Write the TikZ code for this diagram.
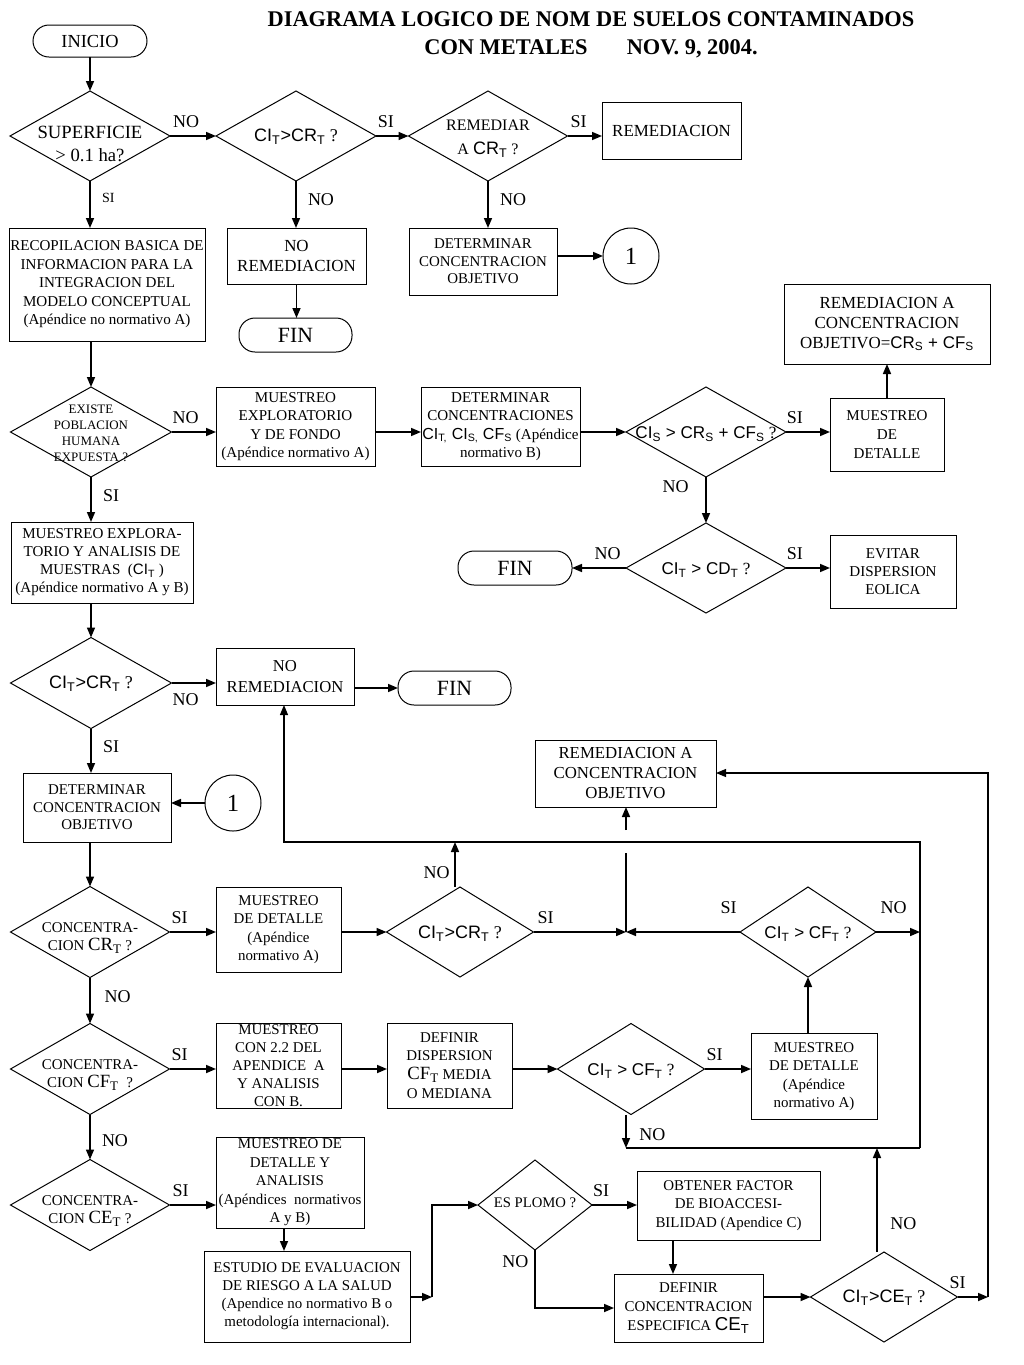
\documentclass[tikz,border=0pt]{standalone}
\usepackage{fontspec}
\setmainfont{Liberation Serif}
\newfontfamily\arialf{Liberation Sans}
\usetikzlibrary{arrows.meta,shapes.geometric,calc}

% formula parts are set in sans
\newcommand{\fsans}[1]{{\arialf #1}}
\newcommand{\sbs}[1]{\textsubscript{#1}}
\newcommand{\fbig}{\fontsize{13.5}{15}\selectfont}
\newcommand{\ftxt}{\fontsize{11.2}{13.7}\selectfont}
\newcommand{\fsub}{\fontsize{14}{15}\selectfont}

\begin{document}
\begin{tikzpicture}[x=0.75pt,y=-0.75pt,
  every node/.style={inner sep=0pt,outer sep=0pt},
  blk/.style 2 args={draw,line width=0.75pt,minimum width=#1*0.75pt,minimum height=#2*0.75pt,align=center,font=\ftxt},
  dec/.style 2 args={diamond,draw,line width=0.75pt,minimum width=#1*0.75pt,minimum height=#2*0.75pt},
  term/.style={draw,line width=0.75pt,rounded corners=12pt,minimum width=113*0.75pt,minimum height=34*0.75pt,font=\fontsize{16.3}{18}\selectfont},
  conn/.style={draw,circle,line width=0.75pt,minimum size=56*0.75pt,font=\fontsize{18.5}{20}\selectfont},
  dtext/.style={align=center,font=\fbig},
  lbl/.style={font=\fbig},
  arr/.style={line width=1.2pt,-{Triangle[length=7.5pt,width=6pt]}},
  arrt/.style={line width=0.8pt,-{Triangle[length=7.5pt,width=6pt]}},
  thin/.style={line width=0.8pt},
]
\fill[white] (0,0) rectangle (1024,1365);
\useasboundingbox (0,0) rectangle (1024,1365);

\node[align=center,font=\bfseries\fontsize{16.8}{21}\selectfont] (title) at (591,35)
  {DIAGRAMA LOGICO DE NOM DE SUELOS CONTAMINADOS\\CON METALES\hspace{1.5em} NOV. 9, 2004.};

% first row
\node[term,minimum width=114*0.75pt,minimum height=32*0.75pt,font=\fontsize{13.8}{15}\selectfont] (inicio) at (90,41) {INICIO};
\node[dec={160}{90}] (d1) at (90,136) {};
\node[dtext,font=\fontsize{14}{17}\selectfont] (t1) at (90,144) {SUPERFICIE\\> 0.1 ha?};
\node[dec={160}{90}] (d2) at (296,136) {};
\node[dtext] (t2) at (296,137) {\fsans{CI\sbs{T}>CR\sbs{T}} ?};
\node[dec={159}{90}] (d3) at (488,136) {};
\node[dtext,font=\fontsize{12}{18}\selectfont] (t3) at (488,139) {REMEDIAR\\A \fsans{\fbig CR\sbs{T}} ?};
\node[blk={139}{57},font=\fontsize{12.7}{15}\selectfont] (remed) at (671.5,130.5) {REMEDIACION};
\node[blk={139}{56},font=\fontsize{12.7}{15.5}\selectfont] (noremA) at (296.5,256) {NO\\REMEDIACION};
\node[term] (finA) at (295.5,335) {FIN};
\node[blk={148}{67},font=\fontsize{11.2}{13}\selectfont] (detobjA) at (483,261.5) {DETERMINAR\\CONCENTRACION\\OBJETIVO};
\node[conn] (oneA) at (631,256) {1};
\node[blk={196}{113},font=\fontsize{11.3}{13.9}\selectfont] (recop) at (107,284.5)
  {RECOPILACION BASICA DE\\INFORMACION PARA LA\\INTEGRACION DEL\\MODELO CONCEPTUAL\\(Apéndice no normativo A)};

% second row
\node[dec={161}{90}] (d4) at (91,432) {};
\node[dtext,font=\fontsize{9.7}{12}\selectfont] (t4) at (91,433) {EXISTE\\POBLACION\\HUMANA\\EXPUESTA ?};
\node[blk={159}{79},font=\fontsize{11.3}{13.75}\selectfont] (muexp) at (295.5,426.5)
  {MUESTREO\\EXPLORATORIO\\Y DE FONDO\\(Apéndice normativo A)};
\node[blk={159}{79},font=\fontsize{11.3}{13.75}\selectfont] (detcon) at (500.5,426.5)
  {DETERMINAR\\CONCENTRACIONES\\\fsans{\fontsize{12}{13.75}\selectfont CI\sbs{T,} CI\sbs{S,} CF\sbs{S}} (Apéndice\\normativo B)};
\node[dec={160}{90}] (d5) at (706,432) {};
\node[dtext,font=\fontsize{12.8}{15}\selectfont] (t5) at (706,434) {\fsans{CI\sbs{S} > CR\sbs{S} + CF\sbs{S}} ?};
\node[blk={114}{73},font=\fontsize{11.3}{13.9}\selectfont] (muedetA) at (887,434.5) {MUESTREO\\DE\\DETALLE};
\node[blk={206}{80},font=\fontsize{12.7}{15}\selectfont] (remedS) at (887,324)
  {REMEDIACION A\\CONCENTRACION\\OBJETIVO=\fsans{CR\sbs{S} + CF\sbs{S}}};
\node[dec={160}{90}] (d6) at (706,568) {};
\node[dtext,font=\fontsize{12.8}{15}\selectfont] (t6) at (706,570) {\fsans{CI\sbs{T} > CD\sbs{T}} ?};
\node[term,minimum width=114*0.75pt] (finB) at (515,568) {FIN};
\node[blk={126}{73},font=\fontsize{11.3}{13.5}\selectfont] (evitar) at (893,571.5) {EVITAR\\DISPERSION\\EOLICA};
\node[blk={182}{81},font=\fontsize{11.3}{13.5}\selectfont] (muexp2) at (102,562.5)
  {MUESTREO EXPLORA-\\TORIO Y ANALISIS DE\\MUESTRAS~ (\fsans{CI\sbs{T}} )\\(Apéndice normativo A y B)};

% third row
\node[dec={161}{91}] (d7) at (91,683) {};
\node[dtext] (t7) at (91,684) {\fsans{CI\sbs{T}>CR\sbs{T}} ?};
\node[blk={138}{57},font=\fontsize{12.5}{15.5}\selectfont] (noremB) at (285,676.5) {NO\\REMEDIACION};
\node[term] (finC) at (454.5,688) {FIN};
\node[blk={148}{69},font=\fontsize{11.2}{13}\selectfont] (detobjB) at (97,807.5) {DETERMINAR\\CONCENTRACION\\OBJETIVO};
\node[conn] (oneB) at (233,803) {1};
\node[blk={181}{67},font=\fontsize{12.6}{15}\selectfont] (remobj) at (625.5,773.5) {REMEDIACION A\\CONCENTRACION\\OBJETIVO};

% fourth row
\node[dec={159}{91}] (d8) at (90,932) {};
\node[dtext,font=\ftxt] (t8) at (90,938) {CONCENTRA-\\CION {\fsub CR\sbs{T}} ?};
\node[blk={125}{85},font=\fontsize{11.2}{13.9}\selectfont] (muedetB) at (278.5,929.5) {MUESTREO\\DE DETALLE\\(Apéndice\\normativo A)};
\node[dec={147}{90}] (d9) at (460,932) {};
\node[dtext] (t9) at (460,934) {\fsans{CI\sbs{T}>CR\sbs{T}} ?};
\node[dec={136}{90}] (d10) at (808,932) {};
\node[dtext,font=\fontsize{12.8}{15}\selectfont] (t10) at (808,934) {\fsans{CI\sbs{T} > CF\sbs{T}} ?};

% fifth row
\node[dec={159}{91}] (d11) at (90,1069) {};
\node[dtext,font=\ftxt] (t11) at (90,1075) {CONCENTRA-\\CION {\fsub CF\sbs{T}}~ ?};
\node[blk={125}{85},font=\fontsize{11.2}{13.5}\selectfont] (muecon) at (278.5,1065.5) {MUESTREO\\CON 2.2 DEL\\APENDICE~ A\\Y ANALISIS\\CON B.};
\node[blk={125}{85},font=\fontsize{11.2}{14}\selectfont] (defdis) at (449.5,1065.5) {DEFINIR\\DISPERSION\\{\fsub CF\sbs{T}} MEDIA\\O MEDIANA};
\node[dec={147}{91}] (d12) at (631,1069) {};
\node[dtext,font=\fontsize{12.8}{15}\selectfont] (t12) at (631,1071) {\fsans{CI\sbs{T} > CF\sbs{T}} ?};
\node[blk={126}{86},font=\fontsize{11.2}{13.9}\selectfont] (muedetC) at (814,1076.5) {MUESTREO\\DE DETALLE\\(Apéndice\\normativo A)};

% sixth row
\node[dec={159}{91}] (d13) at (90,1205) {};
\node[dtext,font=\ftxt] (t13) at (90,1211) {CONCENTRA-\\CION {\fsub CE\sbs{T}} ?};
\node[blk={148}{91},font=\fontsize{11.2}{13.9}\selectfont] (muedetY) at (290,1182.5) {MUESTREO DE\\DETALLE Y\\ANALISIS\\(Apéndices~ normativos\\A y B)};
\node[blk={206}{91},font=\fontsize{11.2}{13.5}\selectfont] (estudio) at (307,1296.5)
  {ESTUDIO DE EVALUACION\\DE RIESGO A LA SALUD\\(Apendice no normativo B o\\metodología internacional).};
\node[dec={114}{90}] (d14) at (535,1205) {};
\node[dtext,font=\fontsize{11}{13}\selectfont] (t14) at (535,1203) {ES PLOMO ?};
\node[blk={183}{69},font=\fontsize{11.2}{14}\selectfont] (obtener) at (728.5,1205.5) {OBTENER FACTOR\\DE BIOACCESI-\\BILIDAD (Apendice C)};
\node[blk={149}{68},font=\fontsize{11.2}{14}\selectfont] (defesp) at (688.5,1308) {DEFINIR\\CONCENTRACION\\ESPECIFICA \fsans{\fsub CE\sbs{T}}};
\node[dec={147}{90}] (d15) at (884,1297) {};
\node[dtext] (t15) at (884,1298) {\fsans{CI\sbs{T}>CE\sbs{T}} ?};

% free ends of the loops
\coordinate (jn) at (626,932);
\coordinate (jtop) at (626,853);
\coordinate (jarr) at (626,830);
\coordinate (up1) at (455,842);
\coordinate (lp1) at (284,842);
\coordinate (lp2) at (920,842);
\coordinate (lp3) at (920,1148);
\coordinate (lp4) at (626,1148);
\coordinate (lp5) at (877,1148);
\coordinate (rr1) at (988,1297);
\coordinate (rr2) at (988,773);
\coordinate (es1) at (432,1297);
\coordinate (es2) at (432,1205);
\coordinate (obx) at (673,1240);

% connectors
\draw[arr] (inicio.south) -- (d1.north);
\draw[arr] (d1.east) -- node[lbl,pos=.35,above=6.5pt] (n1) {NO} (d2.west);
\draw[arr] (d2.east) -- node[lbl,pos=.3,above=6.5pt] (n2) {SI} (d3.west);
\draw[arr] (d3.east) -- node[lbl,pos=.32,above=6.5pt] (n3) {SI} (d3.east -| remed.west);
\draw[arr] (d2.south) -- node[lbl,pos=.4,right=9pt] (n4) {NO} (d2.south |- noremA.north);
\draw[arr] (d3.south) -- node[lbl,pos=.4,right=9pt] (n5) {NO} (d3.south |- detobjA.north);
\draw[arr] (noremA.south) -- (noremA.south |- finA.north);
\draw[arr] (detobjA.east |- oneA.west) -- (oneA.west);
\draw[arr] (d1.south) -- node[font=\fontsize{10.5}{12}\selectfont,pos=.35,right=9pt] (n6) {SI} (d1.south |- recop.north);
\draw[arr] (recop.south -| d4.north) -- (d4.north);
\draw[arr] (d4.east) -- node[lbl,pos=.32,above=6.5pt] (n7) {NO} (d4.east -| muexp.west);
\draw[arr] (d4.east -| muexp.east) -- (d4.east -| detcon.west);
\draw[arr] (detcon.east |- d5.west) -- (d5.west);
\draw[arr] (d5.east) -- node[lbl,pos=.2,above=6.5pt] (n8) {SI} (d5.east -| muedetA.west);
\draw[arr] (muedetA.north) -- (remedS.south);
\draw[arr] (d5.south) -- node[lbl,pos=.2,left=13pt] (n9) {NO} (d6.north);
\draw[arr] (d6.west) -- node[lbl,pos=.34,above=6.5pt] (n10) {NO} (finB.east);
\draw[arr] (d6.east) -- node[lbl,pos=.2,above=6.5pt] (n11) {SI} (d6.east -| evitar.west);
\draw[arr] (d4.south) -- node[lbl,pos=.42,right=9pt] (n12) {SI} (d4.south |- muexp2.north);
\draw[arr] (muexp2.south -| d7.north) -- (d7.north);
\draw[arr] (d7.east) -- node[lbl,pos=.32,below=8pt] (n13) {NO} (d7.east -| noremB.west);
\draw[arr] (noremB.east |- finC.west) -- (finC.west);
\draw[arr] (d7.south) -- node[lbl,pos=.4,right=9pt] (n14) {SI} (d7.south |- detobjB.north);
\draw[arr] (oneB.west) -- (oneB.west -| detobjB.east);
\draw[arr] (detobjB.south -| d8.north) -- (d8.north);
\draw[arr] (d8.east) -- node[lbl,pos=.22,above=6.5pt] (n15) {SI} (d8.east -| muedetB.west);
\draw[arr] (muedetB.east |- d9.west) -- (d9.west);
\draw[arr] (d9.east) -- node[lbl,pos=.13,above=6.5pt] (n16) {SI} (jn);
\draw[arr] (d10.west) -- node[lbl,pos=.1,above=14pt] (n17) {SI} (jn);
\draw[arr] (d10.east) -- node[lbl,pos=.4,above=14pt] (n18) {NO} (d10.east -| lp2);
\draw[thin] (jn) -- (jtop);
\draw[arr] (jarr) -- (jarr |- remobj.south);
\draw[arr] (d9.north -| up1) -- node[lbl,pos=.33,left=4pt] (n19) {NO} (up1);
\draw[arrt] (lp3) -- (lp2) -- (lp1) -- (lp1 |- noremB.south);
\draw[arr] (d8.south) -- node[lbl,pos=.42,right=11pt] (n20) {NO} (d11.north);
\draw[arr] (d11.east) -- node[lbl,pos=.22,above=6.5pt] (n21) {SI} (d11.east -| muecon.west);
\draw[arr] (d11.east -| muecon.east) -- (d11.east -| defdis.west);
\draw[arr] (d12.west -| defdis.east) -- (d12.west);
\draw[arr] (d12.east) -- node[lbl,pos=.22,above=6.5pt] (n22) {SI} (d12.east -| muedetC.west);
\draw[arr] (muedetC.north -| d10.south) -- (d10.south);
\draw[arr] (d12.south -| lp4) -- node[lbl,pos=.6,right=10pt] (n23) {NO} (lp4);
\draw[thin] (lp4) -- (lp3);
\draw[arr] (d11.south) -- node[lbl,pos=.58,right=9pt] (n24) {NO} (d13.north);
\draw[arr] (d13.east) -- node[lbl,pos=.24,above=6.5pt] (n25) {SI} (d13.east -| muedetY.west);
\draw[arr] (muedetY.south -| lp1) -- (lp1 |- estudio.north);
\draw[arr] (estudio.east |- es1) -- (es1);
\draw[arr] (es1) -- (es2) -- (d14.west);
\draw[arr] (d14.east) -- node[lbl,pos=.2,above=6.5pt] (n26) {SI} (d14.east -| obtener.west);
\draw[arr] (obx) -- (obx |- defesp.north);
\draw[arr] (d14.south) |- node[lbl,pos=.1,left=5pt] (n27) {NO} (defesp.west);
\draw[arr] (defesp.east |- d15.west) -- (d15.west);
\draw[arr] (d15.north -| lp5) -- node[lbl,pos=.27,right=10pt] (n28) {NO} (lp5);
\draw[arr] (d15.east) -- node[lbl,pos=0,above=6.5pt] (n29) {SI} (rr1);
\draw[arrt] (rr1) -- (rr2) -- (rr2 -| remobj.east);
\end{tikzpicture}
\end{document}
